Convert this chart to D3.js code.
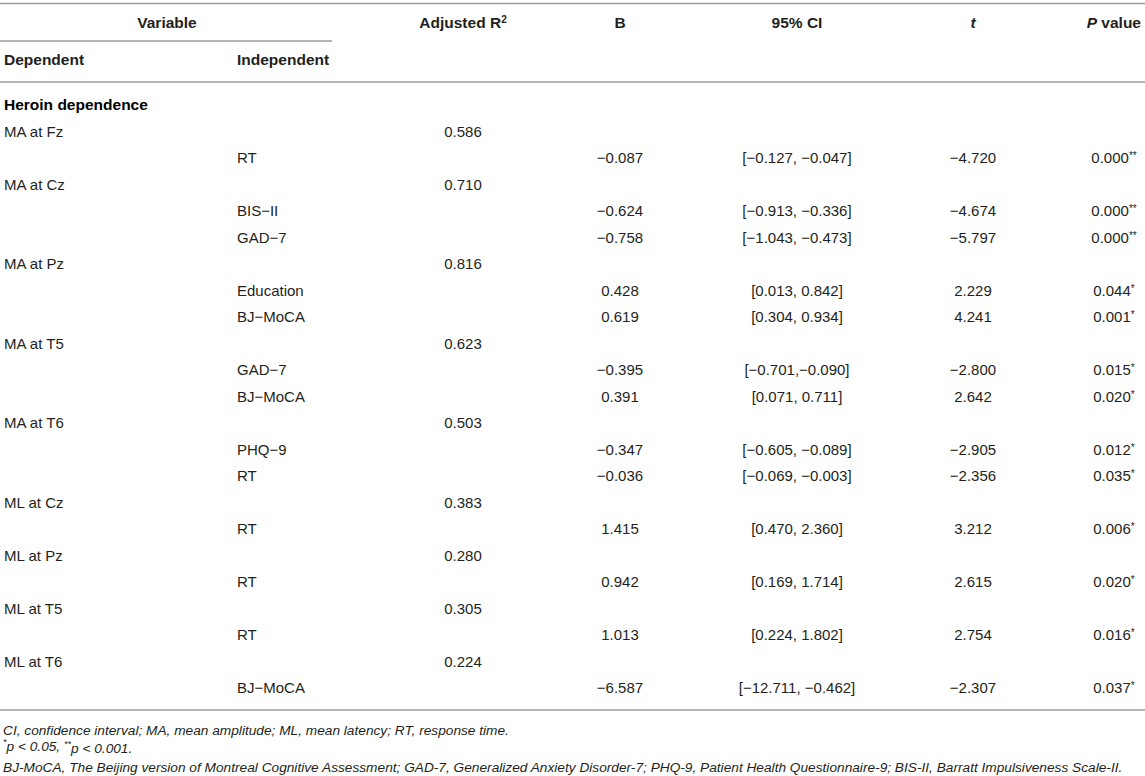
<!DOCTYPE html>
<html>
<head>
<meta charset="utf-8">
<script src="https://cdn.jsdelivr.net/npm/d3@7"></script>
<style>
  html, body { margin: 0; padding: 0; background: #fff; }
  svg { display: block; font-family: "Liberation Sans", Arial, sans-serif; }
</style>
</head>
<body>
<div id="tableContainer"></div>
<script>
// table content
const headers = ["Adjusted R", "B", "95% CI", "t", "P"];
const dependents = ["MA at Fz", "MA at Cz", "MA at Pz", "MA at T5", "MA at T6",
  "ML at Cz", "ML at Pz", "ML at T5", "ML at T6"];
const adjustedR2 = [0.586, 0.710, 0.816, 0.623, 0.503, 0.383, 0.280, 0.305, 0.224];

// one entry per independent variable, predictorGroup points into dependents
const predictorGroup = [0, 1, 1, 2, 2, 3, 3, 4, 4, 5, 6, 7, 8];
const independents = ["RT", "BIS−II", "GAD−7", "Education", "BJ−MoCA", "GAD−7", "BJ−MoCA",
  "PHQ−9", "RT", "RT", "RT", "RT", "BJ−MoCA"];
const bValues = [-0.087, -0.624, -0.758, 0.428, 0.619, -0.395, 0.391, -0.347, -0.036, 1.415, 0.942, 1.013, -6.587];
const ciLower = [-0.127, -0.913, -1.043, 0.013, 0.304, -0.701, 0.071, -0.605, -0.069, 0.470, 0.169, 0.224, -12.711];
const ciUpper = [-0.047, -0.336, -0.473, 0.842, 0.934, -0.090, 0.711, -0.089, -0.003, 2.360, 1.714, 1.802, -0.462];
const tValues = [-4.720, -4.674, -5.797, 2.229, 4.241, -2.800, 2.642, -2.905, -2.356, 3.212, 2.615, 2.754, -2.307];
const pValues = [0.000, 0.000, 0.000, 0.044, 0.001, 0.015, 0.020, 0.012, 0.035, 0.006, 0.020, 0.016, 0.037];
const pStars = ["**", "**", "**", "*", "*", "*", "*", "*", "*", "*", "*", "*", "*"];
const tightCi = [5]; // this CI is printed without a space after the comma

const footnotes = [
  "CI, confidence interval; MA, mean amplitude; ML, mean latency; RT, response time.",
  "BJ-MoCA, The Beijing version of Montreal Cognitive Assessment; GAD-7, Generalized Anxiety Disorder-7; PHQ-9, Patient Health Questionnaire-9; BIS-II, Barratt Impulsiveness Scale-II."
];

(function drawTable() {
  const width = 1145, height = 776;
  const ink = "#231f20", ruleColor = "#9d9d9d";
  const fmt = d3.format(".3f");

  const svg = d3.select("#tableContainer").append("svg")
    .attr("width", width).attr("height", height);

  // column centres
  const colX = d3.scaleOrdinal()
    .domain(["dep", "ind", "r2", "b", "ci", "t", "p"])
    .range([4, 237, 463, 620, 797, 973, 1114]);

  // build body rows: group title, dependent row, predictor rows
  const rows = [{ kind: "group", label: "Heroin dependence" }];
  dependents.forEach((dep, g) => {
    rows.push({ kind: "dep", label: dep, r2: adjustedR2[g] });
    predictorGroup.forEach((pg, i) => {
      if (pg === g) rows.push({ kind: "ind", i });
    });
  });

  const y = d3.scaleLinear().domain([0, rows.length - 1]).range([105, 688]);

  const rule = (x1, x2, yy) => svg.append("line")
    .attr("x1", x1).attr("x2", x2).attr("y1", yy).attr("y2", yy)
    .attr("stroke", ruleColor).attr("stroke-width", 1.5);

  rule(0, width, 3.5);
  rule(0, 332, 41);
  rule(0, width, 82);
  rule(0, width, 710);

  const text = (x, yy, anchor) => svg.append("text")
    .attr("x", x).attr("y", yy).attr("dy", "0.35em")
    .attr("text-anchor", anchor)
    .attr("font-size", 15).attr("fill", ink);

  const bold = (x, yy, anchor) => text(x, yy, anchor)
    .attr("font-weight", "bold").attr("font-size", 15.5);

  // header
  bold(167, 23, "middle").text("Variable");
  const r2h = bold(colX("r2"), 23, "middle");
  r2h.append("tspan").text(headers[0]);
  r2h.append("tspan").attr("font-size", 10).attr("dy", "-0.5em").text("2");
  bold(colX("b"), 23, "middle").text(headers[1]);
  bold(colX("ci"), 23, "middle").text(headers[2]);
  bold(colX("t"), 23, "middle").attr("font-style", "italic").text(headers[3]);
  const ph = bold(1141, 23, "end");
  ph.append("tspan").attr("font-style", "italic").text(headers[4]);
  ph.append("tspan").text(" value");
  bold(colX("dep"), 60, "start").text("Dependent");
  bold(colX("ind"), 60, "start").text("Independent");

  // body
  const body = svg.append("g");
  body.selectAll(".row")
    .data(rows)
    .join("g")
    .attr("class", "row")
    .each(function (d, k) {
      const g = d3.select(this);
      const yy = y(k);
      const cell = (key, anchor) => g.append("text")
        .attr("x", colX(key)).attr("y", yy).attr("dy", "0.35em")
        .attr("text-anchor", anchor).attr("font-size", 15).attr("fill", ink);
      if (d.kind === "group") {
        cell("dep", "start").attr("font-weight", "bold").attr("font-size", 15.5)
          .attr("fill", "#000").text(d.label);
      } else if (d.kind === "dep") {
        cell("dep", "start").text(d.label);
        cell("r2", "middle").text(fmt(d.r2));
      } else {
        const i = d.i;
        const sep = tightCi.includes(i) ? "," : ", ";
        cell("ind", "start").text(independents[i]);
        cell("b", "middle").text(fmt(bValues[i]));
        cell("ci", "middle").text(`[${fmt(ciLower[i])}${sep}${fmt(ciUpper[i])}]`);
        cell("t", "middle").text(fmt(tValues[i]));
        const p = cell("p", "middle");
        p.append("tspan").text(fmt(pValues[i]));
        p.append("tspan").attr("font-size", 10).attr("dy", "-0.4em").text(pStars[i]);
      }
    });

  // footnotes
  const note = (yy) => svg.append("text")
    .attr("x", 3).attr("y", yy).attr("dy", "0.35em")
    .attr("font-size", 13.7).attr("font-style", "italic").attr("fill", ink);

  note(730).text(footnotes[0]);
  const sig = note(749);
  sig.append("tspan").attr("font-size", 9).attr("dy", "-0.4em").text("*");
  sig.append("tspan").attr("dy", "0.4em").text("p < 0.05, ");
  sig.append("tspan").attr("font-size", 9).attr("dy", "-0.4em").text("**");
  sig.append("tspan").attr("dy", "0.4em").text("p < 0.001.");
  note(767).text(footnotes[1]);
})();
</script>
</body>
</html>
